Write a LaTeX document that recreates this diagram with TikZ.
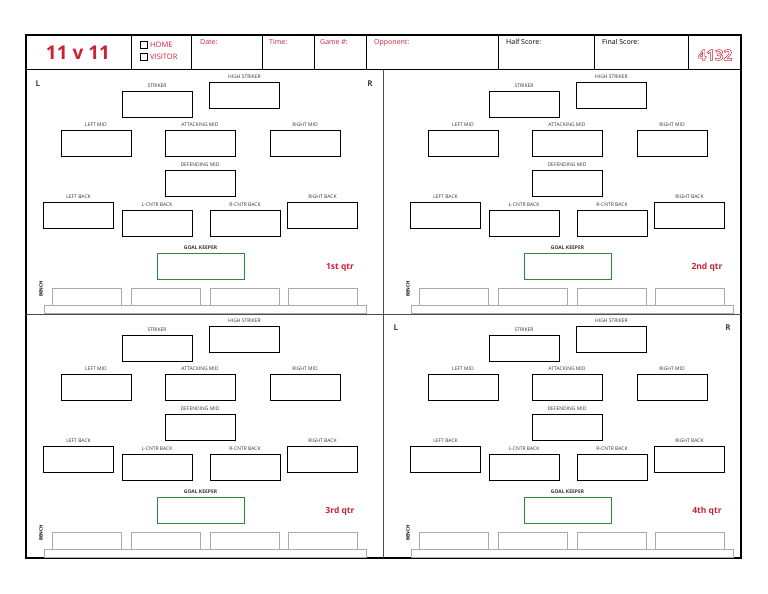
\documentclass[tikz,border=0pt]{standalone}
\usepackage{fontspec}
\setmainfont{Open Sans}
\usetikzlibrary{positioning}
\definecolor{sred}{RGB}{206,32,52}
\definecolor{sgreen}{RGB}{40,140,60}
\definecolor{bgrey}{RGB}{170,170,170}
\begin{document}
\begin{tikzpicture}[x=1pt,y=-1pt,
  posbox/.style={draw=black,line width=0.7pt,minimum width=70pt,minimum height=26pt,inner sep=0pt},
  plab/.style={font=\fontsize{5}{5}\selectfont,inner sep=0pt,text=black!80},
  hdr/.style={font=\fontsize{7}{7}\selectfont,anchor=north west,inner sep=0pt},
  side/.style={font=\bfseries\fontsize{8}{8}\selectfont,inner sep=0pt,text=black!75},
  bench/.style={draw=bgrey,line width=0.6pt,minimum width=69pt,minimum height=17pt,inner sep=0pt,anchor=north west}]
\useasboundingbox (0,0) rectangle (768,594);
% frame
\draw[line width=1.2pt] (26,35) rectangle (741,558);
\draw[line width=1pt] (26,70) -- (741,70);
\foreach \xx in {131,191,262,314,366,498,594,688} \draw[line width=0.8pt] (\xx,35) -- (\xx,70);
\draw[line width=0.8pt,black!70] (383,70) -- (383,558);
\draw[line width=0.8pt,black!70] (26,314) -- (741,314);
% header
\node[font=\bfseries\fontsize{19}{19}\selectfont,text=sred,inner sep=0pt] (title) at (78,53) {11 v 11};
\node[draw,minimum size=7pt,inner sep=0pt,line width=0.5pt] (cb1) at (144,45) {};
\node[draw,minimum size=7pt,inner sep=0pt,line width=0.5pt] (cb2) at (144,57) {};
\node[hdr,anchor=west,text=sred,font=\fontsize{7.5}{7.5}\selectfont] (home) at (150,45) {HOME};
\node[hdr,anchor=west,text=sred,font=\fontsize{7.5}{7.5}\selectfont] (vis) at (150,57) {VISITOR};
\node[hdr,text=sred] (date) at (200,39) {Date:};
\node[hdr,text=sred] (time) at (269,39) {Time:};
\node[hdr,text=sred] (game) at (320,39) {Game \#:};
\node[hdr,text=sred] (opp) at (374,39) {Opponent:};
\node[hdr] (half) at (506,39) {Half Score:};
\node[hdr] (final) at (602,39) {Final Score:};
\node[font=\bfseries\fontsize{15}{15}\selectfont,inner sep=0pt,text=white] (form) at (715,55) {\special{pdf:literal 1 Tr 0.5 w 0.81 0.13 0.2 RG}4132\special{pdf:literal 0 Tr}};
% quadrants
\foreach \ox/\oy/\q/\lr in {0/0/1st/1,367/0/2nd/0,0/244/3rd/0,367/244/4th/2}{
  \begin{scope}[shift={(\ox,\oy)}]
  \node[posbox] (st\q) at (157,104) {};
  \node[plab,above=3pt of st\q] (lst\q) {STRIKER};
  \node[posbox] (hs\q) at (244.5,95) {};
  \node[plab,above=3pt of hs\q] (lhs\q) {HIGH STRIKER};
  \node[posbox] (lm\q) at (96,143.5) {};
  \node[plab,above=3pt of lm\q] (llm\q) {LEFT MID};
  \node[posbox] (am\q) at (200,143.5) {};
  \node[plab,above=3pt of am\q] (lam\q) {ATTACKING MID};
  \node[posbox] (rm\q) at (305,143.5) {};
  \node[plab,above=3pt of rm\q] (lrm\q) {RIGHT MID};
  \node[posbox] (dm\q) at (200,183.5) {};
  \node[plab,above=3pt of dm\q] (ldm\q) {DEFENDING MID};
  \node[posbox] (lb\q) at (78.5,215.5) {};
  \node[plab,above=3pt of lb\q] (llb\q) {LEFT BACK};
  \node[posbox] (lc\q) at (157,223.5) {};
  \node[plab,above=3pt of lc\q] (llc\q) {L-CNTR BACK};
  \node[posbox] (rc\q) at (245,223.5) {};
  \node[plab,above=3pt of rc\q] (lrc\q) {R-CNTR BACK};
  \node[posbox] (rb\q) at (322.5,215.5) {};
  \node[plab,above=3pt of rb\q] (lrb\q) {RIGHT BACK};
  \node[posbox,draw=sgreen,minimum width=87pt] (gk\q) at (200.5,266) {};
  \node[plab,above=3pt of gk\q,font=\bfseries\fontsize{5}{5}\selectfont] (lgk\q) {GOAL KEEPER};
  \node[font=\bfseries\fontsize{8.5}{8.5}\selectfont,text=sred,inner sep=0pt] (qt\q) at (340,267) {\q\ qtr};
  \node[rotate=90,font=\bfseries\fontsize{4.5}{4.5}\selectfont,inner sep=0pt] (bn\q) at (41,289) {BENCH};
  \node[draw=bgrey,line width=0.6pt,minimum width=322pt,minimum height=8pt,inner sep=0pt,anchor=north west] (bar\q) at (44,305) {};
  \node[bench] (b1\q) at (52,288) {};
  \node[bench] (b2\q) at (131,288) {};
  \node[bench] (b3\q) at (210,288) {};
  \node[bench] (b4\q) at (288,288) {};
  \ifnum\lr=1
    \node[side] (L\q) at (38,84) {L};
    \node[side] (R\q) at (370,84) {R};
  \fi
  \ifnum\lr=2
    \node[side] (L\q) at (29,84) {L};
    \node[side] (R\q) at (361,84) {R};
  \fi
  \end{scope}
}
\end{tikzpicture}
\end{document}
